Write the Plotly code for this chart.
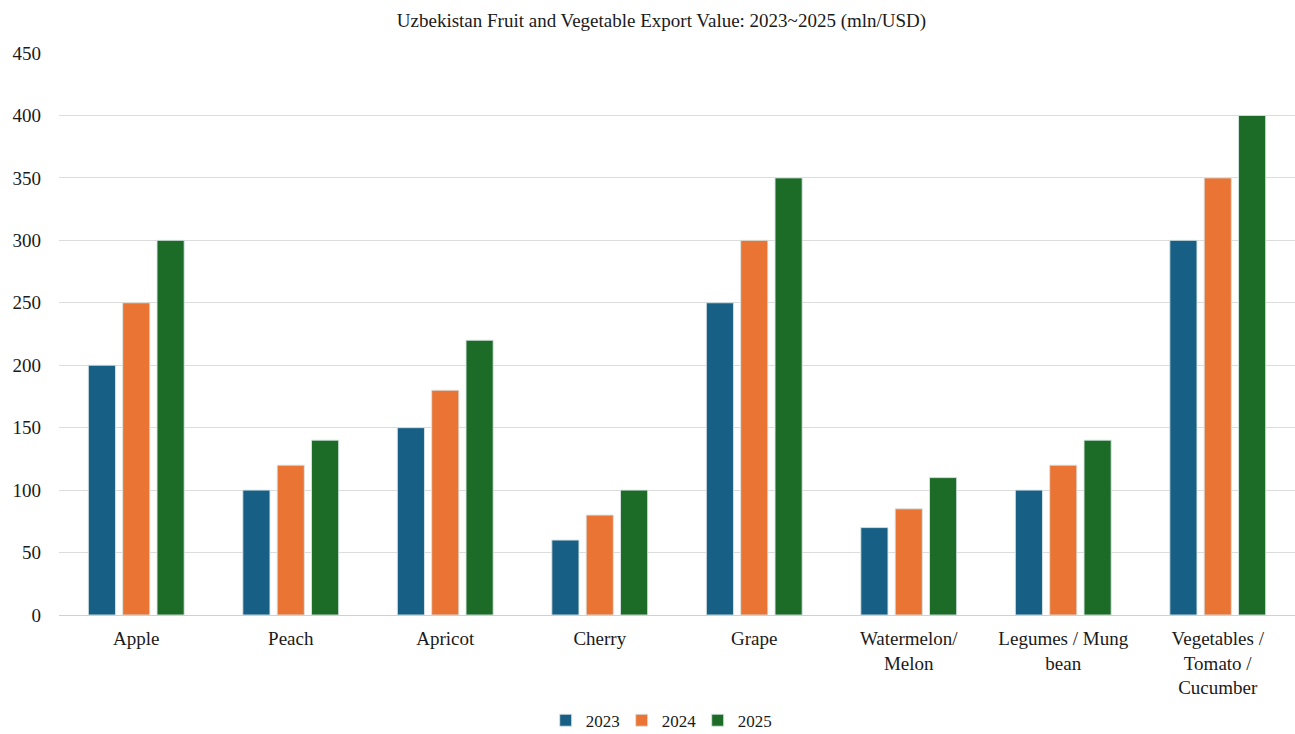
import plotly.graph_objects as go

categories = ["Apple", "Peach", "Apricot", "Cherry", "Grape",
              "Watermelon/<br>Melon", "Legumes / Mung<br>bean",
              "Vegetables /<br>Tomato /<br>Cucumber"]
years = ["2023", "2024", "2025"]
values_2023 = [200, 100, 150, 60, 250, 70, 100, 300]
values_2024 = [250, 120, 180, 80, 300, 85, 120, 350]
values_2025 = [300, 140, 220, 100, 350, 110, 140, 400]
colors = ["#175F84", "#EA7434", "#1C6B26"]

fig = go.Figure()
for name, vals, col in zip(years, [values_2023, values_2024, values_2025], colors):
    fig.add_trace(go.Bar(
        x=categories, y=vals, name=name,
        marker=dict(color=col, line=dict(color="rgba(215,228,228,0.9)", width=1)),
    ))

fig.update_layout(
    width=1295, height=734,
    paper_bgcolor="white", plot_bgcolor="white",
    barmode="group", bargap=0.333, bargroupgap=0.21,
    margin=dict(l=59, r=0, t=53, b=119, autoexpand=False),
    title=dict(text="Uzbekistan Fruit and Vegetable Export Value: 2023~2025 (mln/USD)",
               x=0.5108, xanchor="center", y=1 - 20 / 734, yanchor="middle",
               font=dict(family="Liberation Serif", size=19, color="#1a1a1a")),
    font=dict(family="Liberation Serif", size=19, color="#1a1a1a"),
    legend=dict(orientation="h", x=0.486, xanchor="center", y=-0.188, yanchor="middle",
                font=dict(family="Liberation Serif", size=17, color="#1a1a1a"),
                itemwidth=30, entrywidth=31, entrywidthmode="pixels",
                traceorder="normal"),
    xaxis=dict(showgrid=False, showline=False, ticks="", ticklabelstandoff=10,
               automargin=False, tickfont=dict(family="Liberation Serif", size=19)),
    yaxis=dict(range=[0, 450], dtick=50, showgrid=True, gridcolor="#DCDCDC",
               gridwidth=1, zeroline=True, zerolinecolor="#D0D0D0", zerolinewidth=1,
               showline=False, ticks="", ticklabelstandoff=17, automargin=False,
               tickfont=dict(family="Liberation Serif", size=19)),
)

fig.write_html("out.html")
